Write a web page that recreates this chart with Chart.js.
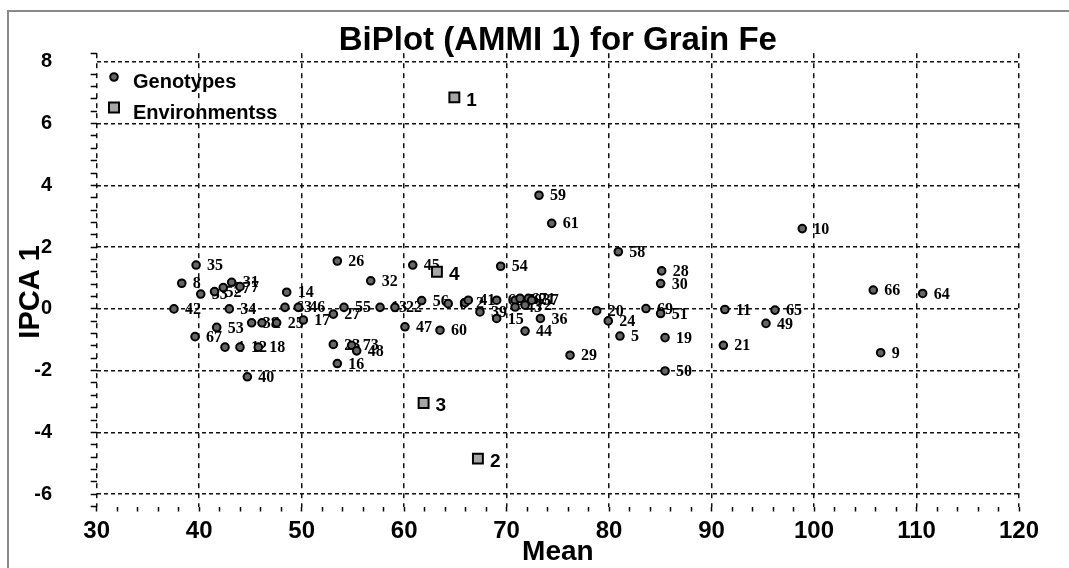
<!DOCTYPE html>
<html lang="en">
<head>
<meta charset="UTF-8">
<title>BiPlot (AMMI 1) for Grain Fe</title>
<script src="https://cdn.jsdelivr.net/npm/chart.js"></script>
<style>
  html, body { margin: 0; padding: 0; background: #fff; }
  #wrap { position: relative; width: 1069px; height: 568px; overflow: hidden; }
  #frame { position: absolute; left: 7px; top: 10px; width: 1070px; height: 565px; border: 2px solid #8a8a8a; box-sizing: border-box; }
  canvas { position: absolute; left: 0; top: 0; }
</style>
</head>
<body>
<div id="wrap">
  <div id="frame"></div>
  <canvas id="biplot" width="1069" height="568"></canvas>
</div>
<script>
// genotypes (labels, mean, IPCA 1 score)
const genoLabels = ["35","8","33","52","57","31","7","42","34","14","63","46","17","53","67",
  "38","1","25","4","12","18","40","26","32","45","55","13","22","27","56","6","2","41","39",
  "68","15","54","70","62","71","37","43","72","36","44","47","60","23","73","48","16","29",
  "20","24","5","58","59","61","28","30","69","51","19","50","11","65","49","21","10","66","9","64"];
const genoMean = [39.7,38.3,40.15,41.5,42.35,43.17,43.98,37.54,42.94,48.54,48.37,49.67,50.16,41.71,39.6,
  45.12,46.13,47.56,42.52,43.98,45.77,44.7,53.48,56.74,60.84,54.13,57.65,59.1,53.09,61.71,64.3,65.94,66.26,67.4,
  69.03,69.03,69.42,70.83,71.31,72.12,72.45,70.83,71.8,73.3,71.8,60.08,63.5,53.09,54.88,55.37,53.48,76.19,
  78.79,79.92,81.06,80.9,73.16,74.4,85.13,85.03,83.6,85.03,85.46,85.46,91.3,96.19,95.31,91.15,98.85,105.78,106.5,110.6];
const genoPca = [1.42,0.83,0.48,0.56,0.69,0.86,0.72,0.0,0.0,0.54,0.05,0.05,-0.36,-0.6,-0.9,
  -0.45,-0.45,-0.45,-1.24,-1.24,-1.24,-2.2,1.55,0.91,1.42,0.05,0.05,0.05,-0.17,0.27,0.17,0.2,0.28,-0.1,
  0.28,-0.31,1.38,0.28,0.34,0.34,0.28,0.06,0.12,-0.31,-0.72,-0.58,-0.69,-1.15,-1.18,-1.36,-1.77,-1.5,
  -0.06,-0.39,-0.88,1.85,3.68,2.77,1.23,0.82,0.01,-0.15,-0.93,-2.01,-0.02,-0.04,-0.47,-1.18,2.6,0.61,-1.42,0.5];

// environments
const envLabels = ["1","2","3","4"];
const envMean = [64.9, 67.2, 61.9, 63.2];
const envPca = [6.85, -4.85, -3.05, 1.2];

const xTicks = [30, 40, 50, 60, 70, 80, 90, 100, 110, 120];
const yTicks = [-6, -4, -2, 0, 2, 4, 6, 8];

const sans = '"Liberation Sans", Arial, sans-serif';

const pointLabels = {
  id: 'pointLabels',
  beforeDatasetsDraw(chart) {
    const ctx = chart.ctx;
    ctx.save();
    ctx.fillStyle = '#000';
    ctx.textBaseline = 'middle';
    ctx.font = 'bold 16px "Liberation Serif", serif';
    chart.getDatasetMeta(0).data.forEach((pt, i) => {
      ctx.fillText(genoLabels[i], pt.x + 11, pt.y + 1);
    });
    ctx.font = 'bold 19px ' + sans;
    chart.getDatasetMeta(1).data.forEach((pt, i) => {
      ctx.fillText(envLabels[i], pt.x + 12, pt.y + 3);
    });
    ctx.restore();
  }
};

const cornerLegend = {
  id: 'cornerLegend',
  afterDraw(chart) {
    const ctx = chart.ctx;
    ctx.save();
    ctx.lineWidth = 2;
    ctx.strokeStyle = '#000';
    ctx.fillStyle = '#666';
    ctx.beginPath();
    ctx.arc(114, 77, 3.8, 0, Math.PI * 2);
    ctx.fill();
    ctx.stroke();
    ctx.fillStyle = '#a6a6a6';
    ctx.fillRect(109, 102.5, 10, 10);
    ctx.strokeRect(109, 102.5, 10, 10);
    ctx.fillStyle = '#000';
    ctx.font = 'bold 20px ' + sans;
    ctx.textBaseline = 'middle';
    ctx.fillText('Genotypes', 133, 82);
    ctx.fillText('Environmentss', 133, 113);
    ctx.restore();
  }
};

const gridStyle = { color: '#111', lineWidth: 1.5, drawTicks: false };

new Chart(document.getElementById('biplot'), {
  type: 'scatter',
  data: {
    datasets: [
      {
        label: 'Genotypes',
        data: genoMean.map((m, i) => ({ x: m, y: genoPca[i] })),
        pointStyle: 'circle',
        pointRadius: 3.8,
        backgroundColor: '#666',
        borderColor: '#000',
        borderWidth: 2
      },
      {
        label: 'Environmentss',
        data: envMean.map((m, i) => ({ x: m, y: envPca[i] })),
        pointStyle: 'rect',
        pointRadius: 7,
        backgroundColor: '#a6a6a6',
        borderColor: '#000',
        borderWidth: 2
      }
    ]
  },
  options: {
    responsive: false,
    animation: false,
    events: [],
    layout: { padding: { left: 0, right: 50, top: 0, bottom: 0 } },
    plugins: {
      legend: { display: false },
      tooltip: { enabled: false },
      title: {
        display: true,
        fullSize: false,
        text: 'BiPlot (AMMI 1) for Grain Fe',
        color: '#000',
        font: { family: sans, size: 33, weight: 'bold', lineHeight: 1 },
        padding: { top: 24, bottom: -3.8 }
      }
    },
    scales: {
      x: {
        type: 'linear', position: 'bottom', weight: 1,
        min: 30, max: 120,
        afterBuildTicks: a => { a.ticks = xTicks.map(v => ({ value: v })); },
        afterFit: a => { a.height = 55.5; },
        grid: gridStyle,
        border: { display: false, dash: [5, 5] },
        ticks: { color: '#000', padding: 4, font: { family: sans, size: 24, weight: 'bold' } },
        title: { display: true, text: 'Mean', color: '#000', padding: { top: 0, bottom: 2 },
          font: { family: sans, size: 28, weight: 'bold', lineHeight: 1 } }
      },
      xMinor: {
        type: 'linear', position: 'bottom', weight: 0,
        min: 30, max: 120,
        afterFit: a => { a.height = 6; },
        ticks: { display: false, stepSize: 2 },
        grid: { drawOnChartArea: false, drawTicks: true, tickLength: 5, tickColor: '#000', tickWidth: 1.5 },
        border: { display: false }
      },
      y: {
        type: 'linear', position: 'left', weight: 1,
        min: -6.4, max: 8.28,
        afterBuildTicks: a => { a.ticks = yTicks.map(v => ({ value: v })); },
        afterFit: a => { a.width = 86; },
        grid: gridStyle,
        border: { display: false, dash: [4, 3] },
        ticks: { color: '#000', padding: 34, font: { family: sans, size: 20, weight: 'bold' } },
        title: { display: true, text: 'IPCA 1   ', color: '#000', padding: { top: 16, bottom: 0 },
          font: { family: sans, size: 29, weight: 'bold', lineHeight: 1 } }
      },
      yMinor: {
        type: 'linear', position: 'left', weight: 0,
        min: -6.4, max: 8.28,
        afterFit: a => { a.width = 10.7; },
        ticks: { display: false, stepSize: 0.4 },
        grid: { drawOnChartArea: false, drawTicks: true, tickLength: 6, tickColor: '#000', tickWidth: 1.5 },
        border: { display: false }
      }
    }
  },
  plugins: [pointLabels, cornerLegend]
});
</script>
</body>
</html>
